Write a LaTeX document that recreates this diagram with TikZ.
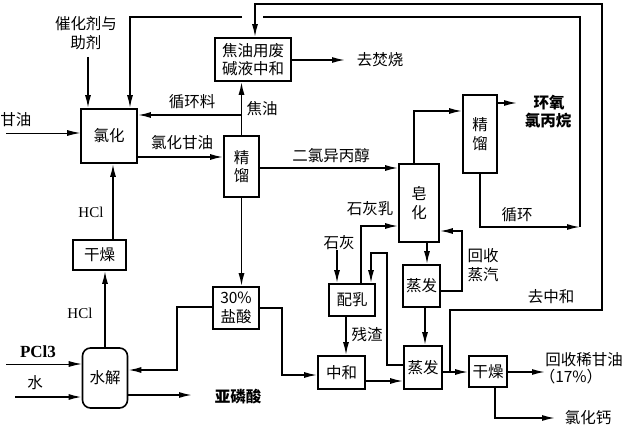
\documentclass[tikz,border=0pt]{standalone}
\usepackage{fontspec}
\setmainfont{Liberation Serif}
\newfontfamily\cjk{Noto Sans CJK SC}
\usetikzlibrary{arrows.meta}
\begin{document}
\begin{tikzpicture}[x=1pt,y=-1pt,
  box/.style={draw,line width=1.6pt,inner sep=0pt,align=center,font=\cjk\fontsize{15.5}{18.5}\selectfont},
  ln/.style={line width=1.6pt},
  arr/.style={ln,-{Latex[length=13pt,width=6pt]}},
  arrthin/.style={line width=0.9pt,-{Latex[length=13pt,width=6pt]}},
  lab/.style={font=\cjk\fontsize{15.5}{18.5}\selectfont,inner sep=0pt,align=center},
  blab/.style={font=\cjk\bfseries\fontsize{15.5}{18.5}\selectfont,inner sep=0pt,align=center},
  lat/.style={font=\fontsize{15}{17}\selectfont,inner sep=0pt}]
\fill[white] (0,0) rectangle (630,428);
\useasboundingbox (0,0) rectangle (630,428);

% boxes
\node[box,minimum width=76pt,minimum height=43pt] (jy) at (253,59.5) {焦油用废\\碱液中和};
\node[box,minimum width=56pt,minimum height=54pt] (lh) at (109,136) {氯化};
\node[box,minimum width=35pt,minimum height=61pt] (jl1) at (241.5,166.5) {精\\馏};
\node[box,minimum width=53pt,minimum height=30pt] (gz1) at (99.5,255) {干燥};
\node[box,rounded corners=8pt,minimum width=45pt,minimum height=60pt] (sj) at (105,378) {水解};
\node[box,minimum width=46pt,minimum height=42pt] (ys) at (236,308) {30\%\\盐酸};
\node[box,minimum width=40pt,minimum height=78pt] (zh) at (419,203) {皂\\化};
\node[box,minimum width=34pt,minimum height=78pt] (jl2) at (480,134) {精\\馏};
\node[box,minimum width=37pt,minimum height=42pt] (zf1) at (421.5,286) {蒸发};
\node[box,minimum width=46pt,minimum height=32pt] (pr) at (352,300) {配乳};
\node[box,minimum width=47pt,minimum height=33pt] (zhh) at (341.5,372.5) {中和};
\node[box,minimum width=38pt,minimum height=43pt] (zf2) at (423,367.5) {蒸发};
\node[box,minimum width=38pt,minimum height=31pt] (gz2) at (488,371.5) {干燥};

% labels
\node[lab] (tcat) at (86,33) {催化剂与\\助剂};
\node[lab] (tgy) at (16,120) {甘油};
\node[lab] (txhl) at (192,102) {循环料};
\node[lab] (tjy) at (262,109) {焦油};
\node[lab] (tlhgy) at (182,143) {氯化甘油};
\node[lat] (thcl1) at (91,212) {HCl};
\node[lat] (thcl2) at (80,313) {HCl};
\node[lat,font=\bfseries\fontsize{17}{19}\selectfont] (tpcl) at (38,352) {PCl3};
\node[lab] (tshui) at (35,383) {水};
\node[blab] (tylsn) at (238,397) {亚磷酸};
\node[lab] (telv) at (331,156) {二氯异丙醇};
\node[lab] (tfs) at (380,60) {去焚烧};
\node[blab] (thy1) at (549,103) {环氧};
\node[blab] (thy2) at (548,121) {氯丙烷};
\node[lab] (txh) at (517,215) {循环};
\node[lab] (tshr) at (370,209) {石灰乳};
\node[lab] (tsh) at (339,243) {石灰};
\node[lab] (thszq) at (483,265) {回收\\蒸汽};
\node[lab] (tqzh) at (551,297) {去中和};
\node[lab] (tcz) at (367,335) {残渣};
\node[lab] (thsgy) at (584,360) {回收稀甘油};
\node[lab] (tpct) at (571,377) {（17\%）};
\node[lab] (tlhg) at (588,418) {氯化钙};

% free ends
\coordinate (gin) at (6,133);
\coordinate (cat) at (88,57);
\coordinate (r1) at (242,115);
\coordinate (ep) at (517,103);
\coordinate (c1) at (580,227);
\coordinate (g1) at (263,17);
\coordinate (g2) at (242,17);
\coordinate (q0) at (450,372);
\coordinate (fs) at (345,60);
\coordinate (pin) at (6,364);
\coordinate (win) at (15,397);
\coordinate (yo) at (192,395);
\coordinate (lime) at (337,250);
\coordinate (gyo) at (545,372);
\coordinate (cao) at (555,418);
\coordinate (hup) at (113,0);

% connectors
\draw[arrthin] (gin) -- (gin -| lh.west);
\draw[arr] (cat) -- (cat |- lh.north);
\draw[arr] (hup |- gz1.north) -- (hup |- lh.south);
\draw[arr] (sj.north) -- (sj.north |- gz1.south);
\draw[arr] (r1) -- (r1 -| lh.east);
\draw[arr] (jl1.north) -- (jl1.north |- jy.south);
\draw[arr] (lh.east |- 0,157) -- (jl1.west |- 0,157);
\draw[arr] (jl1.east |- 0,168) -- (zh.west |- 0,168);
\draw[arr] (zh.north -| 414,0) |- (jl2.west |- 0,111);
\draw[arr] (jl2.east |- ep) -- (ep);
\draw[arr] (jl2.south) |- (c1);
\draw[ln] (c1) |- (g1);
\draw[arr] (g2) -| (130,0 |- lh.north);
\draw[arr] (q0) |- (602,310) |- (255,4) -- (255,0 |- jy.north);
\draw[arr] (jy.east |- fs) -- (fs);
\draw[arr] (jl1.south) -- (jl1.south |- ys.north);
\draw[arrthin] (pin) -- (pin -| sj.west);
\draw[arr] (win) -- (win -| sj.west);
\draw[arr] (sj.east |- yo) -- (yo);
\draw[arr] (ys.west |- 0,307) -| (177,370) -- (sj.east |- 0,370);
\draw[arr] (ys.east |- 0,308) -| (282,375) -- (zhh.west |- 0,375);
\draw[arr] (lime) -- (lime |- pr.north);
\draw[arr] (pr.north -| 361,0) |- (zh.west |- 0,226);
\draw[arr] (zf2.west |- 0,365) -| (387,253) -| (pr.north -| 371,0);
\draw[arr] (pr.south -| 346,0) -- (zhh.north -| 346,0);
\draw[arr] (zhh.east |- 0,381) -- (zf2.west |- 0,381);
\draw[arr] (zh.south -| 427,0) -- (zf1.north -| 427,0);
\draw[arr] (zf1.east |- 0,291) -| (462,231) -- (zh.east |- 0,231);
\draw[arr] (zf1.south -| 425,0) -- (zf2.north -| 425,0);
\draw[arr] (zf2.east |- q0) -- (gz2.west |- q0);
\draw[arr] (gz2.east |- gyo) -- (gyo);
\draw[arr] (gz2.south -| 495,0) |- (cao);
\end{tikzpicture}
\end{document}
